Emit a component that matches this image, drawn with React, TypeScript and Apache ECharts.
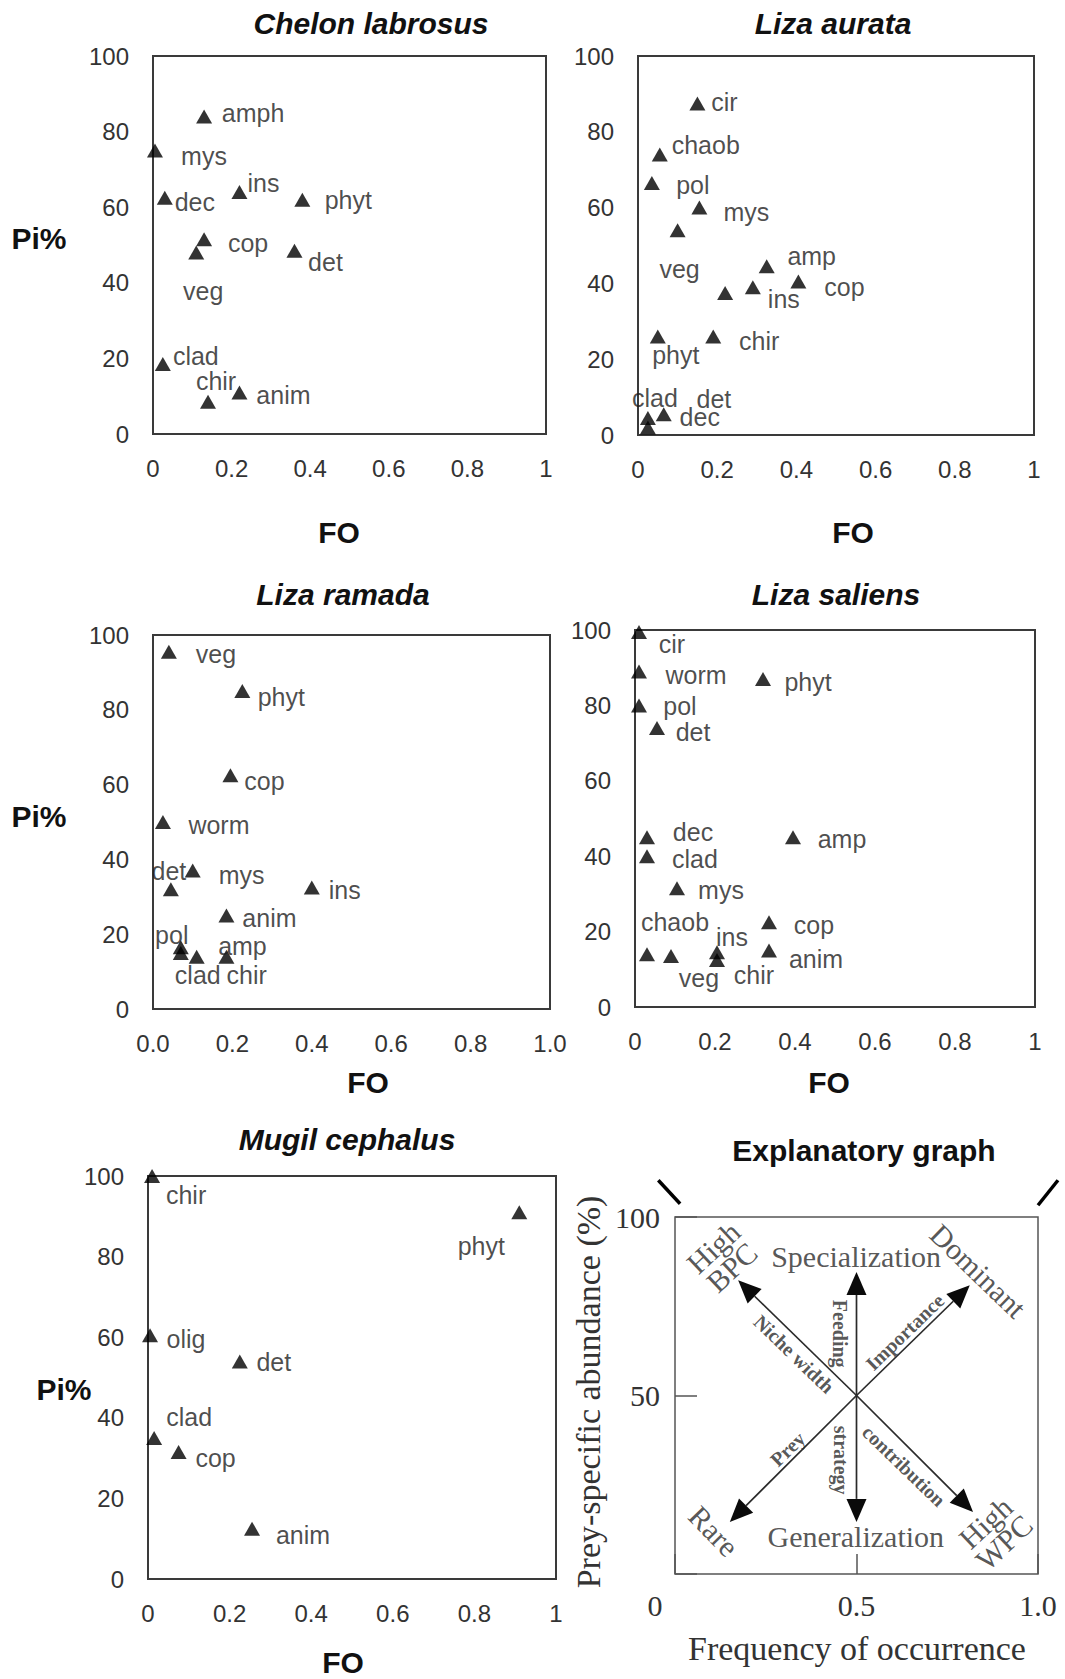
import React, { useEffect, useRef } from "react";
import * as echarts from "echarts";

const W = 1065;
const H = 1679;
const SANS = '"Liberation Sans", Arial, Helvetica, sans-serif';
const SERIF = '"Liberation Serif", "Times New Roman", Times, serif';

// ---------- Data (FO = frequency of occurrence, Pi = prey-specific abundance %) ----------
const xTicks = [0, 0.2, 0.4, 0.6, 0.8, 1];
const yTicks = [0, 20, 40, 60, 80, 100];

// Chelon labrosus
const chelonPrey = ["amph", "mys", "dec", "ins", "phyt", "cop", "veg", "det", "clad", "chir", "anim"];
const chelonFO = [0.13, 0.005, 0.03, 0.22, 0.38, 0.13, 0.11, 0.36, 0.025, 0.14, 0.22];
const chelonPi = [84, 75, 62.5, 64, 62, 51.5, 48, 48.5, 18.5, 8.5, 11];
const chelonLabelOffset = [[49, -3], [49, 5], [30, 4], [24, -9], [46, 0], [44, 4], [7, 38], [31, 11], [33, -8], [8, -21], [44, 3]];

// Liza aurata
const aurataPrey = ["cir", "chaob", "pol", "mys", "veg", "amp", "ins", "", "cop", "phyt", "chir", "clad", "det", "dec"];
const aurataFO = [0.15, 0.055, 0.035, 0.155, 0.1, 0.325, 0.29, 0.22, 0.405, 0.05, 0.19, 0.025, 0.025, 0.065];
const aurataPi = [87.5, 74, 66.5, 60, 54, 44.5, 39, 37.5, 40.5, 26, 26, 4.5, 2, 5.5];
const aurataLabelOffset = [[27, -1], [46, -10], [41, 2], [47, 4], [2, 39], [45, -10], [31, 12], [0, 0], [46, 5], [18, 19], [46, 5], [7, -20], [66, -28], [36, 3]];

// Liza ramada
const ramadaPrey = ["veg", "phyt", "cop", "worm", "det", "mys", "ins", "anim", "pol", "clad", "chir", "amp"];
const ramadaFO = [0.04, 0.225, 0.195, 0.025, 0.045, 0.1, 0.4, 0.185, 0.07, 0.07, 0.11, 0.185];
const ramadaPi = [95.5, 85, 62.5, 50, 32, 37, 32.5, 25, 16.5, 15, 14, 14];
const ramadaLabelOffset = [[47, 2], [39, 6], [34, 6], [56, 3], [-2, -18], [49, 4], [33, 3], [43, 2], [-9, -12], [17, 22], [50, 18], [16, -11]];

// Liza saliens
const saliensPrey = ["cir", "worm", "phyt", "pol", "det", "dec", "amp", "clad", "mys", "cop", "chaob", "veg", "ins", "chir", "anim"];
const saliensFO = [0.01, 0.01, 0.32, 0.01, 0.055, 0.03, 0.395, 0.03, 0.105, 0.335, 0.03, 0.09, 0.205, 0.205, 0.335];
const saliensPi = [99.5, 89, 87, 80, 74, 45, 45, 40, 31.5, 22.5, 14, 13.5, 14.5, 12.5, 15];
const saliensLabelOffset = [[33, 12], [57, 4], [45, 3], [41, 1], [36, 4], [46, -5], [49, 2], [48, 3], [44, 2], [45, 3], [28, -32], [28, 22], [15, -15], [37, 15], [47, 9]];

// Mugil cephalus
const mugilPrey = ["chir", "phyt", "olig", "det", "clad", "cop", "anim"];
const mugilFO = [0.01, 0.91, 0.005, 0.225, 0.015, 0.075, 0.255];
const mugilPi = [100, 91, 60.5, 54, 35, 31.5, 12.5];
const mugilLabelOffset = [[34, 19], [-38, 34], [36, 4], [34, 1], [35, -21], [37, 6], [51, 6]];

// Explanatory graph
const explXTicks = [0, 0.5, 1];
const explYTicks = [0, 50, 100];
const arrowOrigin = [0.5, 50];
const arrowTipFO = [0.5, 0.5, 0.174, 0.812, 0.151, 0.821];
const arrowTipPi = [84.6, 14.6, 82.3, 80.9, 14.6, 17.4];
const cornerMarks = [
  [-0.046, 110.3, 0.014, 103.7],
  [1.055, 110.3, 1.0, 103.3],
];
const annoText = ["High\nBPC", "Specialization", "Dominant", "Niche width", "Feeding", "Importance", "Prey", "strategy", "contribution", "Rare", "Generalization", "High\nWPC"];
const annoFO = [0.131, 0.499, 0.835, 0.328, 0.454, 0.633, 0.31, 0.457, 0.631, 0.107, 0.498, 0.881];
const annoPi = [88.7, 88.8, 84.9, 61.6, 67.3, 67.8, 35.0, 31.9, 30.3, 12.0, 10.4, 11.6];
const annoRotate = [43, 0, -44, -44, -90, 44, 44, -90, -44, -46, 0, 43];
const annoSmall = [false, false, false, true, true, true, true, true, true, false, false, false];

const panelTitles = ["Chelon labrosus", "Liza aurata", "Liza ramada", "Liza saliens", "Mugil cephalus", "Explanatory graph"];

// ---------- Layout (pixels) ----------
const gridBoxes = [
  { left: 153, top: 56, width: 393, height: 378 },
  { left: 638, top: 56, width: 396, height: 379 },
  { left: 153, top: 635, width: 397, height: 374 },
  { left: 635, top: 630, width: 400, height: 377 },
  { left: 148, top: 1176, width: 408, height: 403 },
  { left: 675, top: 1217, width: 363, height: 357 },
];
const titlePos = [[371, 23], [833, 23], [343, 594], [836, 594], [347, 1139], [864, 1150]];
const piPos = [[39, 238], [39, 816], [64, 1389]];
const foPos = [[339, 532], [853, 532], [368, 1082], [829, 1082], [343, 1662]];

const panelData = [
  { names: chelonPrey, fo: chelonFO, pi: chelonPi, off: chelonLabelOffset, oneDecimalEnds: false },
  { names: aurataPrey, fo: aurataFO, pi: aurataPi, off: aurataLabelOffset, oneDecimalEnds: false },
  { names: ramadaPrey, fo: ramadaFO, pi: ramadaPi, off: ramadaLabelOffset, oneDecimalEnds: true },
  { names: saliensPrey, fo: saliensFO, pi: saliensPi, off: saliensLabelOffset, oneDecimalEnds: false },
  { names: mugilPrey, fo: mugilFO, pi: mugilPi, off: mugilLabelOffset, oneDecimalEnds: false },
];

function buildOption(): any {
  const grid = gridBoxes.map((g, i) => ({
    ...g,
    show: true,
    containLabel: false,
    outerBoundsMode: "none",
    backgroundColor: "transparent",
    borderColor: i === 5 ? "#555" : "#3a3a3a",
    borderWidth: i === 5 ? 1.5 : 2,
  }));

  const xAxis: any[] = [];
  const yAxis: any[] = [];
  const series: any[] = [];

  panelData.forEach((p, i) => {
    xAxis.push({
      type: "value",
      gridIndex: i,
      min: xTicks[0],
      max: xTicks[xTicks.length - 1],
      interval: xTicks[1] - xTicks[0],
      axisLine: { show: false },
      axisTick: { show: false },
      splitLine: { show: false },
      axisLabel: {
        show: true,
        showMinLabel: true,
        showMaxLabel: true,
        margin: 22,
        fontSize: 24,
        fontFamily: SANS,
        color: "#333",
        formatter: (v: number) => {
          if (p.oneDecimalEnds) return v.toFixed(1);
          if (Math.abs(v) < 1e-9) return "0";
          if (Math.abs(v - 1) < 1e-9) return "1";
          return v.toFixed(1);
        },
      },
    });
    yAxis.push({
      type: "value",
      gridIndex: i,
      min: yTicks[0],
      max: yTicks[yTicks.length - 1],
      interval: yTicks[1] - yTicks[0],
      axisLine: { show: false },
      axisTick: { show: false },
      splitLine: { show: false },
      axisLabel: {
        show: true,
        showMinLabel: true,
        showMaxLabel: true,
        margin: 24,
        fontSize: 24,
        fontFamily: SANS,
        color: "#333",
      },
    });
    series.push({
      type: "scatter",
      xAxisIndex: i,
      yAxisIndex: i,
      symbol: "triangle",
      symbolSize: [16, 14],
      clip: false,
      silent: true,
      itemStyle: { color: "#000" },
      label: {
        show: true,
        position: "inside",
        formatter: "{b}",
        fontSize: 25,
        fontFamily: SANS,
        color: "#1e1e1e",
      },
      data: p.names.map((n, k) => ({
        name: n,
        value: [p.fo[k], p.pi[k]],
        label: { offset: p.off[k] },
      })),
    });
  });

  // Explanatory graph axes
  xAxis.push({
    type: "value",
    gridIndex: 5,
    min: explXTicks[0],
    max: explXTicks[2],
    interval: explXTicks[1] - explXTicks[0],
    axisLine: { show: false },
    axisTick: { show: true, inside: true, length: 20, lineStyle: { color: "#555", width: 1.5 } },
    splitLine: { show: false },
    axisLabel: {
      show: true,
      showMinLabel: true,
      showMaxLabel: true,
      margin: 16,
      fontSize: 30,
      fontFamily: SERIF,
      color: "#333",
      formatter: (v: number) => (Math.abs(v) < 1e-9 ? "{z|0}" : v.toFixed(1)),
      rich: { z: { fontSize: 30, fontFamily: SERIF, color: "#333", padding: [0, 40, 0, 0] } },
    },
  });
  yAxis.push({
    type: "value",
    gridIndex: 5,
    min: explYTicks[0],
    max: explYTicks[2],
    interval: explYTicks[1] - explYTicks[0],
    axisLine: { show: false },
    axisTick: { show: true, inside: true, length: 22, lineStyle: { color: "#555", width: 1.5 } },
    splitLine: { show: false },
    axisLabel: {
      show: true,
      showMinLabel: true,
      showMaxLabel: true,
      margin: 15,
      fontSize: 30,
      fontFamily: SERIF,
      color: "#333",
      formatter: (v: number) => (Math.abs(v) < 1e-9 ? "" : String(v)),
    },
  });

  series.push({
    type: "custom",
    xAxisIndex: 5,
    yAxisIndex: 5,
    silent: true,
    clip: false,
    data: arrowTipFO.map((x, k) => [x, arrowTipPi[k]]),
    renderItem: (params: any, api: any) => {
      const c = api.coord(arrowOrigin);
      const t = api.coord([api.value(0), api.value(1)]);
      const dx = t[0] - c[0];
      const dy = t[1] - c[1];
      const len = Math.hypot(dx, dy) || 1;
      const ux = dx / len;
      const uy = dy / len;
      const L = 23;
      const hw = 10;
      const bx = t[0] - ux * L;
      const by = t[1] - uy * L;
      const px = -uy;
      const py = ux;
      return {
        type: "group",
        children: [
          { type: "line", shape: { x1: c[0], y1: c[1], x2: bx, y2: by }, style: { stroke: "#2a2a2a", lineWidth: 1.7 } },
          {
            type: "polygon",
            shape: { points: [[t[0], t[1]], [bx + px * hw, by + py * hw], [bx - px * hw, by - py * hw]] },
            style: { fill: "#0a0a0a" },
          },
        ],
      };
    },
  });

  series.push({
    type: "custom",
    xAxisIndex: 5,
    yAxisIndex: 5,
    silent: true,
    clip: false,
    dimensions: ["x1", "y1", "x2", "y2"],
    encode: { x: [0, 2], y: [1, 3] },
    data: cornerMarks,
    renderItem: (params: any, api: any) => {
      const a = api.coord([api.value(0), api.value(1)]);
      const b = api.coord([api.value(2), api.value(3)]);
      return { type: "line", shape: { x1: a[0], y1: a[1], x2: b[0], y2: b[1] }, style: { stroke: "#000", lineWidth: 3.5 } };
    },
  });

  series.push({
    type: "scatter",
    xAxisIndex: 5,
    yAxisIndex: 5,
    symbol: "circle",
    symbolSize: 1,
    silent: true,
    clip: false,
    itemStyle: { color: "rgba(0,0,0,0)" },
    label: { show: true, position: "inside", formatter: "{b}", color: "#2b2b2b", fontFamily: SERIF },
    data: annoText.map((t, k) => ({
      name: t,
      value: [annoFO[k], annoPi[k]],
      label: {
        rotate: annoRotate[k],
        fontSize: annoSmall[k] ? 20 : 30,
        fontWeight: annoSmall[k] ? "bold" : "normal",
        lineHeight: annoSmall[k] ? 21 : 27,
      },
    })),
  });

  const graphic: any[] = [];
  panelTitles.forEach((t, i) => {
    graphic.push({
      type: "text",
      x: titlePos[i][0],
      y: titlePos[i][1],
      silent: true,
      style: {
        text: t,
        fontSize: 30,
        fontWeight: "bold",
        fontStyle: i === 5 ? "normal" : "italic",
        fontFamily: SANS,
        fill: "#111",
        textAlign: "center",
        textVerticalAlign: "middle",
        align: "center",
        verticalAlign: "middle",
      },
    });
  });
  piPos.forEach((p) => {
    graphic.push({
      type: "text",
      x: p[0],
      y: p[1],
      silent: true,
      style: {
        text: "Pi%",
        fontSize: 30,
        fontWeight: "bold",
        fontFamily: SANS,
        fill: "#111",
        textAlign: "center",
        textVerticalAlign: "middle",
        align: "center",
        verticalAlign: "middle",
      },
    });
  });
  foPos.forEach((p) => {
    graphic.push({
      type: "text",
      x: p[0],
      y: p[1],
      silent: true,
      style: {
        text: "FO",
        fontSize: 30,
        fontWeight: "bold",
        fontFamily: SANS,
        fill: "#111",
        textAlign: "center",
        textVerticalAlign: "middle",
        align: "center",
        verticalAlign: "middle",
      },
    });
  });
  graphic.push({
    type: "text",
    x: 588,
    y: 1392,
    rotation: Math.PI / 2,
    silent: true,
    style: {
      text: "Prey-specific abundance (%)",
      fontSize: 34,
      fontFamily: SERIF,
      fill: "#333",
      textAlign: "center",
      textVerticalAlign: "middle",
      align: "center",
      verticalAlign: "middle",
    },
  });
  graphic.push({
    type: "text",
    x: 857,
    y: 1648,
    silent: true,
    style: {
      text: "Frequency of occurrence",
      fontSize: 34,
      fontFamily: SERIF,
      fill: "#333",
      textAlign: "center",
      textVerticalAlign: "middle",
      align: "center",
      verticalAlign: "middle",
    },
  });

  return {
    animation: false,
    backgroundColor: "#fff",
    grid,
    xAxis,
    yAxis,
    series,
    graphic,
  };
}

export default function App() {
  const ref = useRef<HTMLDivElement>(null);
  useEffect(() => {
    if (!ref.current) return;
    const chart = echarts.init(ref.current, null, { renderer: "svg", width: W, height: H });
    chart.setOption(buildOption());
    return () => {
      chart.dispose();
    };
  }, []);
  return (
    <div
      ref={ref}
      style={{ position: "absolute", left: 0, top: 0, width: W, height: H, background: "#fff" }}
    />
  );
}
